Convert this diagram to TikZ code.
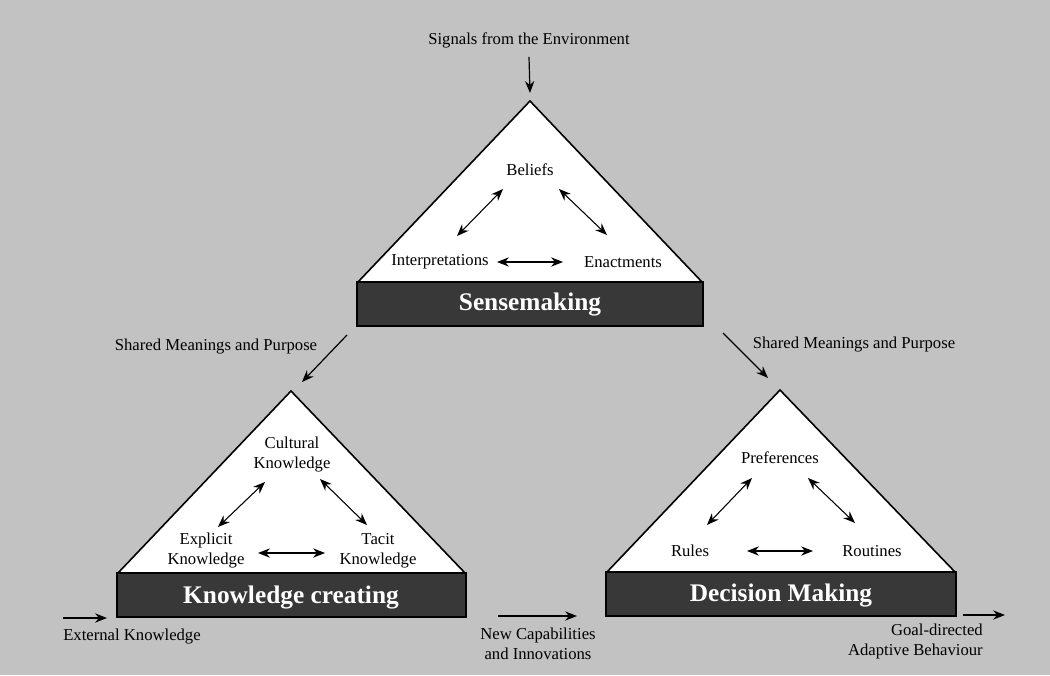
\documentclass[tikz,border=0pt]{standalone}
\usepackage{fontspec}
\setmainfont{Liberation Serif}
\usetikzlibrary{arrows.meta,calc}
\definecolor{bgcol}{gray}{0.76}
\definecolor{barcol}{gray}{0.22}
\begin{document}
\begin{tikzpicture}[x=0.75pt,y=-0.75pt,
  lbl/.style={font=\fontsize{12.5}{15}\selectfont, align=center, inner sep=0pt, text=black},
  bartxt/.style={font=\fontsize{19}{21}\selectfont\bfseries, text=white, inner sep=0pt},
  tri/.style={draw=black, fill=white, line width=1.2pt, line join=miter},
  bar/.style={draw=black, fill=barcol, line width=0.8pt},
  tip/.tip={Stealth[length=9pt,width=7pt,inset=3pt]},
  dbl/.style={tip-tip, line width=0.8pt},
  one/.style={-tip, line width=0.9pt}]
\useasboundingbox (0,0) rectangle (1050,675);
\fill[bgcol] (0,0) rectangle (1050,675);

% ---------- Sensemaking ----------
\coordinate (sA) at (530,101);
\coordinate (sL) at (358,282);
\coordinate (sR) at (702,282);
\filldraw[tri] (sL) -- (sA) -- (sR) -- cycle;
\draw[bar] (357,282) rectangle (703,326);
\node[bartxt] (sbar) at (530,305) {Sensemaking};
\node[lbl] (bel) at (530,170) {Beliefs};
\node[lbl] (int) at (440,262) {Interpretations};
\node[lbl] (ena) at (623,262) {Enactments};
\draw[dbl] ($(bel)+(-27,19)$) -- ($(bel)+(-73,66)$);
\draw[dbl] ($(bel)+(29,19)$) -- ($(bel)+(77,65)$);
\draw[dbl] ($(int)+(57,0)$) -- ($(int)+(123,0)$);
\node[lbl] (sig) at (529,40) {Signals from the Environment};
\draw[one] ($(sig.south)+(0,9)$) -- ($(sA)+(0,-8)$);

% ---------- Knowledge creating ----------
\coordinate (kA) at (291,391);
\coordinate (kL) at (118,573);
\coordinate (kR) at (465,573);
\filldraw[tri] (kL) -- (kA) -- (kR) -- cycle;
\draw[bar] (117,573) rectangle (466,617);
\node[bartxt] (kbar) at (291,597) {Knowledge creating};
\node[lbl] (cul) at (292,455) {Cultural\\Knowledge};
\node[lbl] (exp) at (206,551) {Explicit\\Knowledge};
\node[lbl] (tac) at (378,551) {Tacit\\Knowledge};
\draw[dbl] ($(cul)+(-27,27)$) -- ($(cul)+(-74,72)$);
\draw[dbl] ($(cul)+(28,24)$) -- ($(cul)+(75,70)$);
\draw[dbl] ($(exp)+(52,2)$) -- ($(exp)+(119,2)$);

% ---------- Decision Making ----------
\coordinate (dA) at (780,390);
\coordinate (dL) at (607,572);
\coordinate (dR) at (955,572);
\filldraw[tri] (dL) -- (dA) -- (dR) -- cycle;
\draw[bar] (606,572) rectangle (956,616);
\node[bartxt] (dbar) at (781,595) {Decision Making};
\node[lbl] (pre) at (780,458) {Preferences};
\node[lbl] (rul) at (690,551) {Rules};
\node[lbl] (rou) at (872,551) {Routines};
\draw[dbl] ($(pre)+(-28,20)$) -- ($(pre)+(-73,67)$);
\draw[dbl] ($(pre)+(28,20)$) -- ($(pre)+(75,65)$);
\draw[dbl] ($(rul)+(57,0)$) -- ($(rul)+(123,0)$);

% ---------- Shared meanings ----------
\node[lbl] (shl) at (216,347) {Shared Meanings and Purpose};
\coordinate (shlS) at (347,335);
\draw[one] (shlS) -- ($(kA)+(11,-9)$);
\node[lbl] (shr) at (854,345) {Shared Meanings and Purpose};
\coordinate (shrS) at (723,333);
\draw[one] (shrS) -- ($(dA)+(-12,-12)$);

% ---------- Inputs / outputs ----------
\coordinate (extS) at (63,618);
\coordinate (extE) at (107,618);
\draw[one] (extS) -- (extE);
\node[lbl, anchor=north west] (ext) at (63,629) {External Knowledge};

\coordinate (newS) at (498,616);
\coordinate (newE) at (577,616);
\draw[one] (newS) -- (newE);
\node[lbl] (newc) at (538,644) {New Capabilities\\and Innovations};

\coordinate (goalS) at (963,615);
\coordinate (goalE) at (1005,615);
\draw[one] (goalS) -- (goalE);
\node[lbl, align=right, anchor=north east] (goal) at (983,624) {Goal-directed\\Adaptive Behaviour};
\end{tikzpicture}
\end{document}
